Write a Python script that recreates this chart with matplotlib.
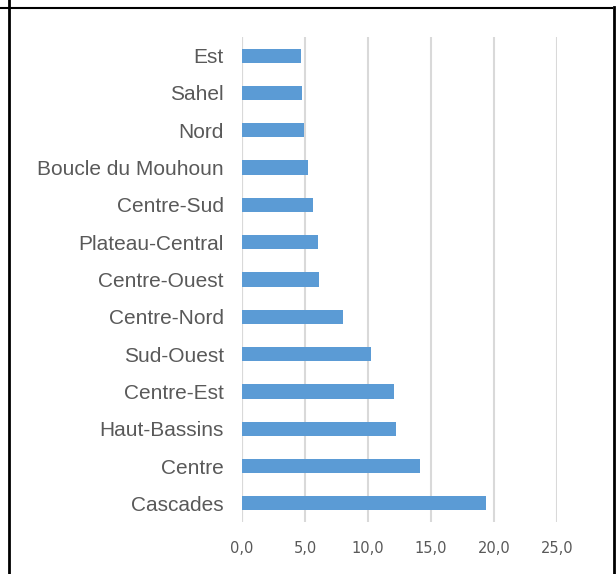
import matplotlib
matplotlib.use("Agg")
import matplotlib.pyplot as plt
from matplotlib.lines import Line2D

regions = ["Est", "Sahel", "Nord", "Boucle du Mouhoun", "Centre-Sud", "Plateau-Central",
           "Centre-Ouest", "Centre-Nord", "Sud-Ouest", "Centre-Est", "Haut-Bassins",
           "Centre", "Cascades"]
values = [4.7, 4.8, 4.9, 5.2, 5.6, 6.0, 6.1, 8.0, 10.2, 12.1, 12.2, 14.1, 19.4]
xticks = [0, 5, 10, 15, 20, 25]
xticklabels = ["0,0", "5,0", "10,0", "15,0", "20,0", "25,0"]

W, H = 616, 574
fig = plt.figure(figsize=(W / 100, H / 100), dpi=100)
ax = fig.add_axes([242 / W, 1 - 522 / H, (557 - 242) / W, (522 - 37) / H])

pos = list(range(len(regions)))
ax.barh(pos, values, height=0.38, color="#5B9BD5", zorder=3)
ax.set_ylim(len(regions) - 0.5, -0.5)
ax.set_xlim(0, 25)
ax.set_xticks(xticks)
ax.set_xticklabels(xticklabels, fontsize=10.5, color="#595959", family="DejaVu Sans")
ax.set_yticks(pos)
ax.set_yticklabels(regions, fontsize=15, color="#595959", family="Liberation Sans")
ax.tick_params(axis="both", length=0)
ax.tick_params(axis="x", pad=14)
ax.tick_params(axis="y", pad=13)
ax.grid(axis="x", color="#D9D9D9", linewidth=1.5, zorder=0)
for s in ax.spines.values():
    s.set_visible(False)
ax.axvline(0, color="#D9D9D9", linewidth=1.5, zorder=1)

# frame lines around the chart
fig.add_artist(Line2D([8.5 / W, 8.5 / W], [0, 1], transform=fig.transFigure, color="black", lw=2))
fig.add_artist(Line2D([0, 612 / W], [1 - 7.5 / H, 1 - 7.5 / H], transform=fig.transFigure, color="black", lw=1.5))
fig.add_artist(Line2D([613.5 / W, 613.5 / W], [0, 1 - 7 / H], transform=fig.transFigure, color="black", lw=2))

fig.savefig("out.png", dpi=100)
